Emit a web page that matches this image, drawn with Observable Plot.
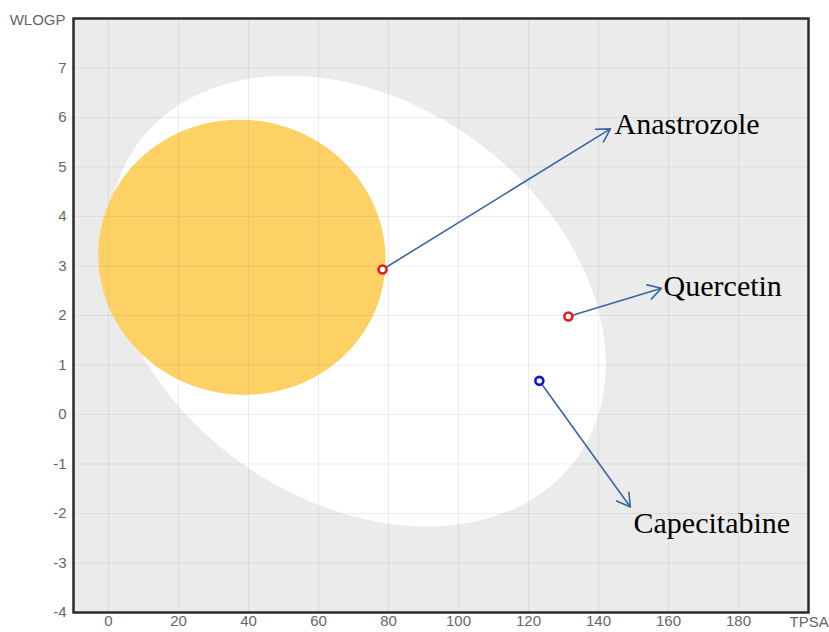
<!DOCTYPE html>
<html><head><meta charset="utf-8">
<script src="https://cdn.jsdelivr.net/npm/d3@7"></script>
<script src="https://cdn.jsdelivr.net/npm/@observablehq/plot@0.6"></script>
<style>html,body{margin:0;padding:0;background:#fff}</style>
</head><body><div id="chart"></div>
<script>
// Axis ticks
const xTicks = [0, 20, 40, 60, 80, 100, 120, 140, 160, 180];
const yTicks = [-4, -3, -2, -1, 0, 1, 2, 3, 4, 5, 6, 7];
const xDomain = [-10, 200];
const yDomain = [-4, 8];

// Compounds (TPSA, WLOGP)
const compounds = ["Anastrozole", "Quercetin", "Capecitabine"];
const tpsa = [78.3, 131.4, 123.1];
const wlogp = [2.93, 1.98, 0.68];
const dotColors = ["#e41a1c", "#e41a1c", "#1414cc"];
const arrowTipX = [143.4, 158.0, 149.1];
const arrowTipY = [5.77, 2.55, -1.87];
const labelX = [144.6, 158.6, 150.0];
const labelY = [5.86, 2.58, -2.20];

// BOILED-Egg ellipses: white (HIA) and yolk (BBB)
const ellipseNames = ["HIA", "BBB"];
const ellipseCx = [71.051, 38.117];
const ellipseCy = [2.292, 3.177];
const ellipseAxisA = [142.081, 82.061];
const ellipseAxisB = [8.740, 5.557];
const ellipseAngleDeg = [-1.031325, -0.066326];
const ellipseFill = ["#ffffff", "#fdd163"];

function ellipsePoints(i) {
  const a = ellipseAxisA[i] / 2, b = ellipseAxisB[i] / 2;
  const th = ellipseAngleDeg[i] * Math.PI / 180;
  const pts = [];
  for (let k = 0; k < 360; k++) {
    const t = k * Math.PI / 180;
    pts.push({
      x: ellipseCx[i] + a * Math.cos(t) * Math.cos(th) - b * Math.sin(t) * Math.sin(th),
      y: ellipseCy[i] + a * Math.cos(t) * Math.sin(th) + b * Math.sin(t) * Math.cos(th)
    });
  }
  return pts;
}

const pts = compounds.map((name, i) => ({
  name, x: tpsa[i], y: wlogp[i], color: dotColors[i],
  tx: arrowTipX[i], ty: arrowTipY[i], lx: labelX[i], ly: labelY[i]
}));

const chart = Plot.plot({
  width: 829, height: 632,
  marginLeft: 73, marginRight: 21, marginTop: 18, marginBottom: 20,
  x: {domain: xDomain},
  y: {domain: yDomain},
  style: {fontFamily: "'Liberation Sans', Arial, sans-serif", fontSize: "15px", color: "#666", background: "white"},
  marks: [
    Plot.frame({fill: "#ebebeb", stroke: null}),
    Plot.line(ellipsePoints(0), {x: "x", y: "y", fill: ellipseFill[0], stroke: null, curve: "linear-closed"}),
    Plot.line(ellipsePoints(1), {x: "x", y: "y", fill: ellipseFill[1], stroke: null, curve: "linear-closed"}),
    Plot.gridX(xTicks, {stroke: "#888", strokeOpacity: 0.16, strokeWidth: 1}),
    Plot.gridY(yTicks, {stroke: "#888", strokeOpacity: 0.16, strokeWidth: 1}),
    Plot.axisX(xTicks, {tickSize: 0, tickPadding: 3, label: null, fill: "#666", tickFormat: d => String(d)}),
    Plot.axisY(yTicks, {tickSize: 0, tickPadding: 7, label: null, fill: "#666", tickFormat: d => String(d)}),
    Plot.arrow(pts, {x1: "x", y1: "y", x2: "tx", y2: "ty", stroke: "#3b66a3", strokeWidth: 1.6, headLength: 14}),
    Plot.dot(pts, {x: "x", y: "y", r: 4, stroke: "color", fill: "white", strokeWidth: 2.6}),
    Plot.text(pts, {x: "lx", y: "ly", text: "name", textAnchor: "start", lineAnchor: "middle",
      fontFamily: "'Liberation Serif', 'Times New Roman', serif", fontSize: 30, fill: "#000"}),
    Plot.frame({stroke: "#2b2b2b", strokeWidth: 2.5}),
    Plot.text(["WLOGP"], {frameAnchor: "top-left", dx: -8, dy: 2, textAnchor: "end", lineAnchor: "middle", fill: "#666", fontSize: 15}),
    Plot.text(["TPSA"], {frameAnchor: "bottom-right", dx: -19, dy: 10, textAnchor: "start", lineAnchor: "middle", fill: "#666", fontSize: 15})
  ]
});
document.getElementById("chart").appendChild(chart);
</script>
</body></html>
